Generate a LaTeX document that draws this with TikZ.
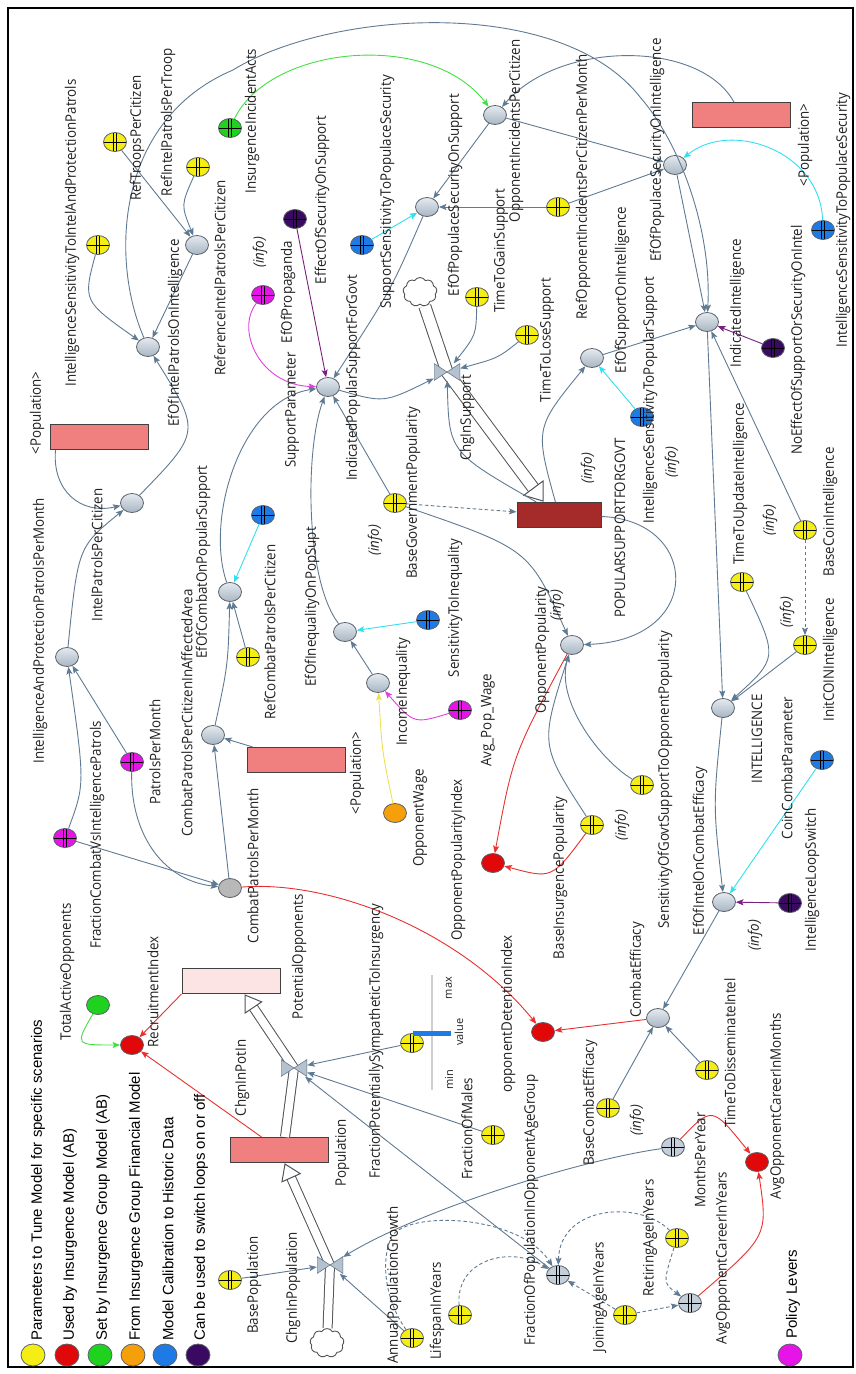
\documentclass[tikz,border=0pt]{standalone}
\usepackage{fontspec}
\setmainfont{Open Sans}
\newfontfamily\lblfam{Open Sans}[FakeStretch=0.92]
\newfontfamily\legfont{Liberation Sans}
\usetikzlibrary{shapes.geometric,shapes.symbols,arrows.meta,calc}
\definecolor{cYel}{HTML}{F4EE14}
\definecolor{cRed}{HTML}{E00808}
\definecolor{cGrn}{HTML}{1ED21E}
\definecolor{cOra}{HTML}{F5A00A}
\definecolor{cBlu}{HTML}{1E7BE6}
\definecolor{cPur}{HTML}{3A0A62}
\definecolor{cMag}{HTML}{E614E6}
\definecolor{cAuxL}{HTML}{E4EAF0}
\definecolor{cAuxR}{HTML}{A8B5C2}
\definecolor{cAuxM}{HTML}{C4CED8}
\definecolor{cCpm}{HTML}{B8B8B8}
\definecolor{cEdge}{HTML}{5A6068}
\definecolor{cLink}{HTML}{5F7A92}
\definecolor{cCyan}{HTML}{30E0F0}
\definecolor{cLMag}{HTML}{E040E0}
\definecolor{cLPur}{HTML}{78207E}
\definecolor{cLRed}{HTML}{E83030}
\definecolor{cLGrn}{HTML}{40E040}
\definecolor{cLGold}{HTML}{F0E050}
\definecolor{cStock}{HTML}{F08080}
\definecolor{cStockL}{HTML}{FCE4E4}
\definecolor{cStockD}{HTML}{A52A2A}
\definecolor{cStkEdge}{HTML}{404040}
\definecolor{cPipe}{HTML}{505458}
\definecolor{cValve}{HTML}{B4C2D0}
\definecolor{cValveD}{HTML}{687888}
\definecolor{cTxt}{HTML}{202020}
\definecolor{cSlider}{HTML}{CFCFCF}
\newcommand\lblfont{\lblfam\fontsize{14.5}{16}\selectfont}
\tikzset{
  var/.style={ellipse, minimum width=23pt, minimum height=19pt, inner sep=0pt, draw=cEdge, line width=0.8pt},
  auxv/.style={var, top color=cAuxL, bottom color=cAuxR},
  pln/.style={var, fill=#1},
  prm/.style={var, fill=#1, path picture={
      \draw[line width=0.8pt,black] ([xshift=-1.7pt]path picture bounding box.north) -- ([xshift=-1.7pt]path picture bounding box.south)
        ([xshift=1.7pt]path picture bounding box.north) -- ([xshift=1.7pt]path picture bounding box.south);
      \draw[line width=0.5pt,black] (path picture bounding box.west) -- (path picture bounding box.east);}},
  stk/.style={rectangle, draw=cStkEdge, line width=1pt, fill=#1, minimum width=98pt, minimum height=25pt, inner sep=0pt},
  valve/.style={rectangle, minimum width=26pt, minimum height=17pt, inner sep=0pt, path picture={
      \filldraw[fill=cValve, draw=cValveD, line width=0.6pt]
        (path picture bounding box.north west) -- (path picture bounding box.center) -- (path picture bounding box.south west) -- cycle
        (path picture bounding box.north east) -- (path picture bounding box.center) -- (path picture bounding box.south east) -- cycle;}},
  cloudn/.style={cloud, cloud puffs=9, cloud puff arc=120, aspect=1.15, draw=cPipe, line width=0.9pt, fill=white, minimum width=34pt, minimum height=29pt, inner sep=0pt},
  lbl/.style={rotate=90, font=\lblfont, text=cTxt, inner sep=0pt},
  infol/.style={lbl, font=\lblfont\itshape},
  lk/.style={draw=cLink, line width=0.9pt, -{Stealth[length=7.5pt,width=6pt,inset=1.5pt]}},
  lkd/.style={lk, dash pattern=on 3.5pt off 2.5pt},
  lkcy/.style={lk, draw=cCyan},
  lkma/.style={lk, draw=cLMag},
  lkpu/.style={lk, draw=cLPur},
  lkre/.style={lk, draw=cLRed},
  lkgr/.style={lk, draw=cLGrn},
  lkgo/.style={lk, draw=cLGold},
  pipe/.style={draw=cPipe, line width=1pt, double=white, double distance=8pt},
  pipewide/.style={pipe, double distance=11pt},
  pipehead/.style={fill=white, draw=cPipe, line width=1pt, line join=miter},
  legc/.style={ellipse, minimum width=24pt, minimum height=22pt, inner sep=0pt, draw=cEdge, line width=0.8pt},
  legt/.style={rotate=90, anchor=west, font=\legfont\fontsize{15}{17}\selectfont, text=black, inner sep=0pt},
}
\begin{document}
\begin{tikzpicture}[x=1pt,y=-1pt]
\path[use as bounding box] (0,0) rectangle (856,1374);
\draw[line width=2.5pt] (8,8) rectangle (853,1367);

% ---------- variables ----------
\node[prm=cYel] (isIAP) at (98,245) {};
\node[prm=cYel] (rtpc) at (115,142) {};
\node[prm=cYel] (rippt) at (198,167) {};
\node[auxv] (ripc) at (197,245) {};
\node[auxv] (eipi) at (148,347) {};
\node[prm=cGrn] (iia) at (230,128) {};
\node[prm=cPur] (eoss) at (295,219) {};
\node[prm=cMag] (eop) at (263,295) {};
\node[prm=cBlu] (ssps) at (362,245) {};
\node[auxv] (epss) at (427,207) {};
\node[auxv] (oipc) at (495,115) {};
\node[prm=cYel] (roipcm) at (558,207) {};
\node[prm=cYel] (ttgs) at (477,297) {};
\node[prm=cYel] (ttls) at (527,335) {};
\node[stk=cStock] (popR3) at (741,115) {};
\node[auxv] (epsi) at (675,165) {};
\node[prm=cBlu] (isps) at (823,230) {};
\node[auxv] (esi) at (592,358) {};
\node[prm=cBlu] (isPS) at (642,417) {};
\node[auxv] (ii) at (707,322) {};
\node[prm=cPur] (neso) at (773,348) {};
\node[auxv] (ipsg) at (328,387) {};
\node[stk=cStockD, minimum width=84pt] (psg) at (559,515) {};
\node[prm=cYel] (bgp) at (395,503) {};
\node[auxv] (op) at (572,645) {};
\node[pln=cRed] (opi) at (493,863) {};
\node[prm=cYel] (bip) at (592,825) {};
\node[prm=cYel] (sgso) at (642,785) {};
\node[prm=cYel] (ttui) at (742,582) {};
\node[prm=cYel] (bci) at (805,530) {};
\node[prm=cYel] (initc) at (805,645) {};
\node[auxv] (intel) at (723,708) {};
\node[auxv] (eice) at (724,902) {};
\node[prm=cBlu] (ccp) at (822,760) {};
\node[prm=cPur] (ils) at (790,903) {};
\node[auxv] (ce) at (658,1018) {};
\node[prm=cYel] (bce) at (608,1108) {};
\node[prm=cYel] (ttdi) at (707,1070) {};
\node[prm=cAuxM] (mpy) at (673,1147) {};
\node[pln=cRed] (aocm) at (757,1162) {};
\node[prm=cAuxM] (aocy) at (690,1303) {};
\node[prm=cYel] (ray) at (677,1238) {};
\node[prm=cYel] (jay) at (625,1315) {};
\node[prm=cAuxM] (fpoag) at (558,1275) {};
\node[prm=cYel] (liy) at (460,1315) {};
\node[prm=cYel] (apg) at (412,1338) {};
\node[prm=cYel] (fom) at (493,1135) {};
\node[prm=cYel] (fps) at (412,1043) {};
\node[pln=cRed] (odi) at (543,1032) {};
\node[stk=cStock] (popS) at (279,1150) {};
\node[stk=cStockL] (potO) at (231,981) {};
\node[prm=cYel] (bp) at (230,1280) {};
\node[pln=cRed] (ri) at (132,1045) {};
\node[pln=cGrn] (tao) at (98,1005) {};
\node[pln=cCpm] (cpm) at (230,888) {};
\node[prm=cMag] (fcvi) at (65,838) {};
\node[prm=cMag] (ppm) at (132,762) {};
\node[auxv] (iappm) at (67,657) {};
\node[auxv] (ipc) at (132,503) {};
\node[stk=cStock] (popR1) at (99,437) {};
\node[auxv] (cpca) at (213,735) {};
\node[auxv] (ecps) at (230,592) {};
\node[prm=cYel] (rcpc) at (248,657) {};
\node[prm=cBlu] (sp) at (263,515) {};
\node[stk=cStock] (popR2) at (296,760) {};
\node[auxv] (eiops) at (345,632) {};
\node[auxv] (inc) at (378,683) {};
\node[prm=cBlu] (sti) at (428,620) {};
\node[prm=cMag] (apw) at (460,710) {};
\node[pln=cOra] (ow) at (395,813) {};

% ---------- flows (pipes) ----------
\node[cloudn] (cloudS) at (420,292) {};
\node[cloudn] (cloudP) at (327,1343) {};
\coordinate (vS) at (447,372);
\coordinate (vP) at (294,1068);
\coordinate (vPop) at (330,1265);
\coordinate (tipS) at (543,501);
\coordinate (tipP) at (245,995);
\coordinate (tipPop) at (285,1164);
\coordinate (hbS) at ($(tipS)!16pt!(vS)$);
\coordinate (hbP) at ($(tipP)!15pt!(vP)$);
\coordinate (hbPop) at ($(tipPop)!15pt!(vPop)$);
\draw[pipewide] (cloudS) -- (vS) -- (hbS);
\filldraw[pipehead] (tipS) -- ($(hbS)!12pt!90:(tipS)$) -- ($(hbS)!12pt!-90:(tipS)$) -- cycle;
\draw[pipe] ([xshift=6pt]popS.north) -- (vP) -- (hbP);
\filldraw[pipehead] (tipP) -- ($(hbP)!10pt!90:(tipP)$) -- ($(hbP)!10pt!-90:(tipP)$) -- cycle;
\draw[pipe] (cloudP) -- (vPop) -- (hbPop);
\filldraw[pipehead] (tipPop) -- ($(hbPop)!10pt!90:(tipPop)$) -- ($(hbPop)!10pt!-90:(tipPop)$) -- cycle;
\node[valve] (valveS) at (vS) {};
\node[valve] (valveP) at (vP) {};
\node[valve] (valvePop) at (vPop) {};

% ---------- links ----------
\draw[lk] (isIAP) .. controls (83,301) .. (eipi);
\draw[lk] (rtpc) -- (ripc);
\draw[lk] (rippt) .. controls (181,205) .. (ripc);
\draw[lk] (ripc) -- (eipi);
\draw[lk] (ipc) .. controls (201,432) .. (eipi);
\draw[lk] (eipi) .. controls (110,260) and (115,120) .. (233,70) .. controls (330,10) and (560,-5) .. (640,97) .. controls (680,143) and (712,230) .. (ii);
\draw[lkgr] (iia) .. controls (270,45) and (430,30) .. (oipc);
\draw[lk] (popR3) .. controls (700,40) and (560,40) .. (oipc);
\draw[lk] (oipc) -- (epss);
\draw[lk] (oipc) -- (epsi);
\draw[lk] (roipcm) -- (epss);
\draw[lk] (roipcm) -- (epsi);
\draw[lk] (epss) .. controls (391,290) .. (ipsg);
\draw[lkcy] (ssps) -- (epss);
\draw[lkcy] (isps) .. controls (820,150) and (730,120) .. (epsi);
\draw[lk] (epsi) -- (ii);
\draw[lk] (esi) -- (ii);
\draw[lkcy] (isPS) -- (esi);
\draw[lkpu] (neso) -- (ii);
\draw[lk] (bci) -- (ii);
\draw[lk] (ii) -- (intel);
\draw[lk] (ttui) .. controls (778,658) .. (intel);
\draw[lk] (initc) -- (intel);
\draw[lkd] (bci) -- (initc);
\draw[lk] (intel) .. controls (713,805) .. (eice);
\draw[lkcy] (ccp) -- (eice);
\draw[lkpu] (ils) -- (eice);
\draw[lk] (eice) -- (ce);
\draw[lk] (bce) -- (ce);
\draw[lk] (ttdi) -- (ce);
\draw[lkre] (ce) -- (odi);
\draw[lkre] (cpm) .. controls (330,880) and (460,930) .. (odi);
\draw[lkre] (mpy) .. controls (712,1106) .. (aocm);
\draw[lkre] (aocy) .. controls (768,1236) .. (aocm);
\draw[lk] (mpy) .. controls (580,1160) and (420,1210) .. (valvePop);
\draw[lk] (bp) -- (valvePop);
\draw[lk] (apg) -- (valvePop);
\draw[lk] (fps) -- (valveP);
\draw[lk] (fom) -- (valveP);
\draw[lk] (fpoag) -- (valveP);
\draw[lkd] (liy) .. controls (455,1260) and (510,1245) .. (fpoag);
\draw[lkd] (apg) .. controls (385,1300) and (380,1260) .. (392,1236) .. controls (410,1210) and (520,1215) .. (fpoag);
\draw[lkd] (ray) .. controls (640,1200) and (560,1205) .. (fpoag);
\draw[lkd] (ray) .. controls (663,1283) .. (aocy);
\draw[lkd] (jay) -- (aocy);
\draw[lkd] (jay) -- (fpoag);
\draw[lk] (ipsg) .. controls (384,403) .. (valveS);
\draw[lk] (ttgs) .. controls (476,335) .. (valveS);
\draw[lk] (ttls) .. controls (498,358) .. (valveS);
\draw[lk] (psg) .. controls (449,452) .. (valveS);
\draw[lk] (psg) .. controls (535,428) .. (esi);
\draw[lk] (psg) .. controls (700,520) and (705,640) .. (op);
\draw[lk] (bgp) .. controls (529,549) .. (op);
\draw[lkd] (bgp) -- (psg);
\draw[lk] (bgp) -- (ipsg);
\draw[lkre] (op) .. controls (513,755) .. (opi);
\draw[lkre] (bip) .. controls (552,879) .. (opi);
\draw[lk] (bip) .. controls (540,745) .. (op);
\draw[lk] (sgso) .. controls (600,760) and (555,700) .. (op);
\draw[lkma] (eop) .. controls (235,330) and (260,385) .. (ipsg);
\draw[lkpu] (eoss) -- (ipsg);
\draw[lk] (ecps) .. controls (205,520) and (240,400) .. (ipsg);
\draw[lk] (eiops) .. controls (305,580) and (305,450) .. (ipsg);
\draw[lk] (inc) -- (eiops);
\draw[lkcy] (sti) -- (eiops);
\draw[lkma] (apw) .. controls (414,724) .. (inc);
\draw[lkgo] (ow) .. controls (382,751) .. (inc);
\draw[lkcy] (sp) -- (ecps);
\draw[lk] (rcpc) -- (ecps);
\draw[lk] (cpca) .. controls (228,665) .. (ecps);
\draw[lk] (cpm) -- (cpca);
\draw[lk] (popR2) -- (cpca);
\draw[lk] (fcvi) .. controls (85,784) .. (iappm);
\draw[lk] (fcvi) -- (cpm);
\draw[lk] (ppm) -- (iappm);
\draw[lk] (ppm) .. controls (130,830) and (160,880) .. (cpm);
\draw[lk] (iappm) .. controls (78,547) .. (ipc);
\draw[lk] ([xshift=6pt]popR1.south west) .. controls (52,490) and (80,515) .. (ipc);
\draw[lkgr] (tao) .. controls (75,1045) .. (ri);
\draw[lkre] (potO.south west) -- (ri);
\draw[lkre] ([xshift=32pt]popS.north west) -- (ri);

% ---------- slider ----------
\draw[line width=2.2pt, cSlider] (432,975) -- (432,1090);
\draw[line width=5pt, cBlu] (413,1033) -- (451,1033);
\node[rotate=90, font=\fontsize{11}{12}\selectfont, text=cTxt] (smax) at (449,988) {max};
\node[rotate=90, font=\fontsize{11}{12}\selectfont, text=cTxt] (sval) at (459,1032) {value};
\node[rotate=90, font=\fontsize{11}{12}\selectfont, text=cTxt] (smin) at (449,1080) {min};

% ---------- labels ----------
\node[lbl] at (72,233) {IntelligenceSensitivityToIntelAndProtectionPatrols};
\node[lbl] at (137,138) {RefTroopsPerCitizen};
\node[lbl] at (168,122) {RefIntelPatrolsPerTroop};
\node[lbl] at (220,278) {ReferenceIntelPatrolsPerCitizen};
\node[lbl] at (175,333) {EfOfIntelPatrolsOnIntelligence};
\node[lbl] at (252,121) {InsurgenceIncidentActs};
\node[lbl] at (322,200) {EffectOfSecurityOnSupport};
\node[lbl] at (288,292) {EfOfPropaganda};
\node[infol] at (260,252) {(info)};
\node[lbl] at (387,192) {SupportSensitivityToPopulaceSecurity};
\node[lbl] at (455,195) {EfOfPopulaceSecurityOnSupport};
\node[lbl] at (516,131) {OpponentIncidentsPerCitizen};
\node[lbl] at (501,251) {TimeToGainSupport};
\node[lbl] at (583,187) {RefOpponentIncidentsPerCitizenPerMonth};
\node[lbl] at (547,340) {TimeToLoseSupport};
\node[lbl] at (805,145) {<Population>};
\node[lbl] at (657,150) {EfOfPopulaceSecurityOnIntelligence};
\node[lbl] at (843,220) {IntelligenceSensitivityToPopulaceSecurity};
\node[lbl] at (622,290) {EfOfSupportOnIntelligence};
\node[lbl] at (650,400) {IntelligenceSensitivityToPopularSupport};
\node[infol] at (672,462) {(info)};
\node[lbl] at (737,303) {IndicatedIntelligence};
\node[lbl] at (798,340) {NoEffectOfSupportOrSecurityOnIntel};
\node[lbl] at (353,378) {IndicatedPopularSupportForGovt};
\node[lbl] at (467,418) {ChgInSupport};
\node[lbl] at (620,528) {POPULARSUPPORTFORGOVT};
\node[infol] at (588,468) {(info)};
\node[lbl] at (413,493) {BaseGovernmentPopularity};
\node[infol] at (375,540) {(info)};
\node[lbl] at (542,650) {OpponentPopularity};
\node[infol] at (557,605) {(info)};
\node[lbl] at (458,860) {OpponentPopularityIndex};
\node[lbl] at (560,878) {BaseInsurgencePopularity};
\node[infol] at (622,825) {(info)};
\node[lbl] at (665,780) {SensitivityOfGovtSupportToOpponentPopularity};
\node[lbl] at (740,484) {TimeToUpdateIntelligence};
\node[infol] at (770,520) {(info)};
\node[lbl] at (830,512) {BaseCoinIntelligence};
\node[lbl] at (830,660) {InitCOINIntelligence};
\node[infol] at (787,612) {(info)};
\node[lbl] at (757,739) {INTELLIGENCE};
\node[lbl] at (700,851) {EfOfIntelOnCombatEfficacy};
\node[lbl] at (787,768) {CoinCombatParameter};
\node[lbl] at (812,880) {IntelligenceLoopSwitch};
\node[infol] at (755,935) {(info)};
\node[lbl] at (637,970) {CombatEfficacy};
\node[lbl] at (590,1103) {BaseCombatEfficacy};
\node[infol] at (637,1120) {(info)};
\node[lbl] at (730,1053) {TimeToDisseminateIntel};
\node[lbl] at (700,1160) {MonthsPerYear};
\node[lbl] at (777,1106) {AvgOpponentCareerInMonths};
\node[lbl] at (723,1258) {AvgOpponentCareerInYears};
\node[lbl] at (650,1238) {RetiringAgeInYears};
\node[lbl] at (600,1297) {JoiningAgeInYears};
\node[lbl] at (531,1210) {FractionOfPopulationInOpponentAgeGroup};
\node[lbl] at (437,1311) {LifespanInYears};
\node[lbl] at (394,1285) {AnnualPopulationGrowth};
\node[lbl] at (467,1129) {FractionOfMales};
\node[lbl] at (376,1041) {FractionPotentiallySympatheticToInsurgency};
\node[lbl] at (508,1014) {opponentDetentionIndex};
\node[lbl] at (342,1153) {Population};
\node[lbl] at (299,957) {PotentialOpponents};
\node[lbl] at (242,1078) {ChgnInPotIn};
\node[lbl] at (293,1288) {ChgnInPopulation};
\node[lbl] at (254,1285) {BasePopulation};
\node[lbl] at (153,992) {RecruitmentIndex};
\node[lbl] at (67,972) {TotalActiveOpponents};
\node[lbl] at (253,866) {CombatPatrolsPerMonth};
\node[lbl] at (97,835) {FractionCombatVsIntelligencePatrols};
\node[lbl] at (155,752) {PatrolsPerMonth};
\node[lbl] at (40,631) {IntelligenceAndProtectionPatrolsPerMonth};
\node[lbl] at (97,555) {IntelPatrolsPerCitizen};
\node[lbl] at (37,413) {<Population>};
\node[lbl] at (187,713) {CombatPatrolsPerCitizenInAffectedArea};
\node[lbl] at (203,562) {EfOfCombatOnPopularSupport};
\node[lbl] at (270,632) {RefCombatPatrolsPerCitizen};
\node[lbl] at (292,410) {SupportParameter};
\node[lbl] at (357,773) {<Population>};
\node[lbl] at (312,607) {EfOfInequalityOnPopSupt};
\node[lbl] at (403,692) {IncomeInequality};
\node[lbl] at (455,608) {SensitivityToInequality};
\node[lbl] at (488,720) {Avg\_Pop\_Wage};
\node[lbl] at (420,818) {OpponentWage};

% ---------- legend ----------
\node[legc, fill=cYel] (lg1) at (33,1355) {};
\node[legc, fill=cRed] (lg2) at (67,1355) {};
\node[legc, fill=cGrn] (lg3) at (100,1355) {};
\node[legc, fill=cOra] (lg4) at (133,1355) {};
\node[legc, fill=cBlu] (lg5) at (165,1355) {};
\node[legc, fill=cPur] (lg6) at (198,1355) {};
\node[legc, fill=cMag] (lg7) at (790,1355) {};
\node[legt] at (38,1341) {Parameters to Tune Model for specific scenarios};
\node[legt] at (70,1341) {Used by Insurgence Model (AB)};
\node[legt] at (103,1341) {Set by Insurgence Group Model (AB)};
\node[legt] at (136,1341) {From Insurgence Group Financial Model};
\node[legt] at (168,1341) {Model Calibration to Historic Data};
\node[legt] at (201,1341) {Can be used to switch loops on or off};
\node[legt] at (793,1339) {Policy Levers};
\end{tikzpicture}
\end{document}
